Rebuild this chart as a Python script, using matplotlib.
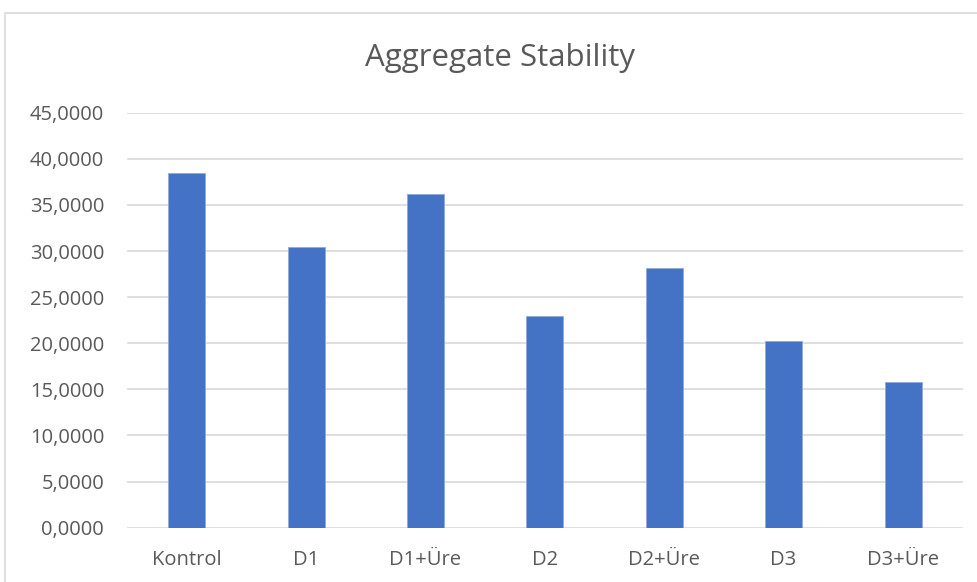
import matplotlib.pyplot as plt
from matplotlib.patches import Rectangle
from matplotlib.ticker import FuncFormatter, MultipleLocator

plt.rcParams['font.family'] = ['Open Sans', 'DejaVu Sans']

categories = ['Kontrol', 'D1', 'D1+Üre', 'D2', 'D2+Üre', 'D3', 'D3+Üre']
stability = [38.43, 30.47, 36.18, 22.99, 28.19, 20.21, 15.83]

W, H = 977, 582
fig = plt.figure(figsize=(W / 100, H / 100), dpi=100)

# chart-area frame, cut off at the right and bottom
fig.patches.append(Rectangle((5 / W, -0.1), 1.1, 1.1 - 13 / H, transform=fig.transFigure,
                             fill=False, edgecolor='#d9d9d9', linewidth=1.2))

ax = fig.add_axes([127 / W, 1 - 527.7 / H, (962.7 - 127) / W, (527.7 - 112.7) / H])
x = range(len(categories))
ax.bar(x, stability, width=0.31, color='#4472C4', edgecolor='#8faadc', linewidth=0.6, zorder=3)

ax.set_xlim(-0.5, len(categories) - 0.5)
ax.set_ylim(0, 45)
ax.yaxis.set_major_locator(MultipleLocator(5))
ax.yaxis.set_major_formatter(FuncFormatter(lambda v, _: f'{v:.4f}'.replace('.', ',')))
ax.set_xticks(list(x))
ax.set_xticklabels(categories)

ax.grid(axis='y', color='#d9d9d9', linewidth=1.2, zorder=0)
for s in ax.spines.values():
    s.set_visible(False)
ax.tick_params(axis='both', length=0, labelsize=14.5, colors='#595959')
ax.tick_params(axis='y', pad=16.5)
ax.tick_params(axis='x', pad=16)

fig.text(500 / W, 1 - 58 / H, 'Aggregate Stability', ha='center', va='center',
         fontsize=22.5, color='#595959')

fig.savefig('out.png', dpi=100, facecolor='white')
